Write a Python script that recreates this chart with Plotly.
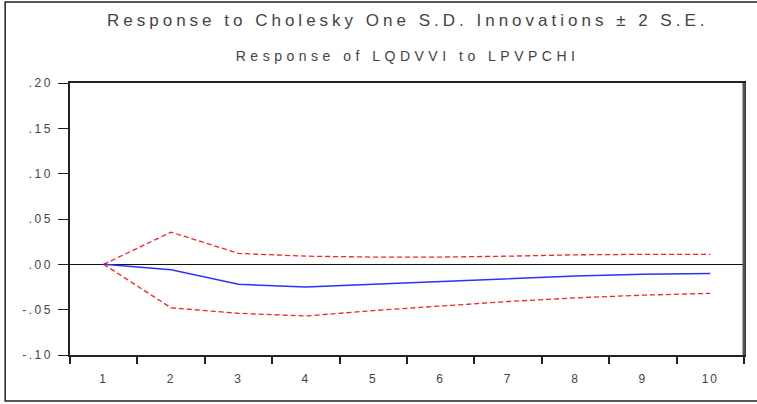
import plotly.graph_objects as go

periods = [1, 2, 3, 4, 5, 6, 7, 8, 9, 10]
response = [0.0, -0.006, -0.022, -0.025, -0.022, -0.019, -0.016, -0.013, -0.011, -0.010]
upper = [0.0, 0.0355, 0.012, 0.009, 0.008, 0.008, 0.009, 0.0105, 0.011, 0.011]
lower = [0.0, -0.048, -0.054, -0.057, -0.051, -0.046, -0.041, -0.037, -0.034, -0.032]
y_ticks = [-0.10, -0.05, 0.00, 0.05, 0.10, 0.15, 0.20]
y_labels = ["-.10", "-.05", ".00", ".05", ".10", ".15", ".20"]
x_labels = [str(p) for p in periods]
boundaries = [p - 0.5 for p in periods] + [periods[-1] + 0.5]

fig = go.Figure()
fig.add_trace(go.Scatter(x=periods, y=upper, mode="lines",
                         line=dict(color="#ff2020", width=1.3, dash="5px,3px"), hoverinfo="skip"))
fig.add_trace(go.Scatter(x=periods, y=lower, mode="lines",
                         line=dict(color="#ff2020", width=1.3, dash="5px,3px"), hoverinfo="skip"))
fig.add_trace(go.Scatter(x=periods, y=response, mode="lines",
                         line=dict(color="#3030ff", width=1.5)))

font_family = "Liberation Sans, Arial, sans-serif"
fig.update_layout(
    width=757, height=404,
    margin=dict(l=70, r=11, t=83, b=49),
    paper_bgcolor="white", plot_bgcolor="white",
    showlegend=False,
    font=dict(family=font_family, color="#444444", size=12),
    xaxis=dict(range=[0.5, 10.5], tickvals=periods, ticktext=x_labels,
               ticks="", showgrid=False, zeroline=False, ticklabelstandoff=12,
               showline=True, linecolor="#222222", linewidth=1.5, mirror=True,
               tickfont=dict(size=12, color="#444444"),
               minor=dict(tickvals=boundaries, ticks="outside", ticklen=7,
                          tickcolor="#222222", tickwidth=1.5, showgrid=False)),
    yaxis=dict(range=[-0.10, 0.20], tickvals=y_ticks, ticktext=y_labels,
               ticks="outside", ticklen=10, tickcolor="#222222", tickwidth=1,
               ticklabelstandoff=3,
               showgrid=False, zeroline=True, zerolinecolor="#111111", zerolinewidth=1.3,
               showline=True, linecolor="#222222", linewidth=1.5, mirror=True,
               tickfont=dict(size=12, color="#444444")),
    annotations=[
        dict(text="Response to Cholesky One S.D. Innovations \u00b1 2 S.E.",
             xref="paper", yref="paper", x=0.5, y=1.0, yshift=63, showarrow=False,
             font=dict(size=17, color="#444444", family=font_family), xanchor="center", yanchor="middle"),
        dict(text="Response of LQDVVI to LPVPCHI",
             xref="paper", yref="paper", x=0.5, y=1.0, yshift=27, showarrow=False,
             font=dict(size=14, color="#444444", family=font_family), xanchor="center", yanchor="middle"),
    ],
    shapes=[
        dict(type="rect", xref="paper", yref="paper", x0=-0.0962, x1=1.03, y0=-0.169, y1=1.298,
             line=dict(color="#222222", width=1.5), layer="below"),
        dict(type="line", xref="paper", yref="paper", x0=1.0, x1=1.0, y0=0, y1=1,
             line=dict(color="#555555", width=3)),
    ],
)

post = """
document.body.style.margin = '0px';
document.body.style.padding = '0px';
var gd = document.getElementsByClassName('plotly-graph-div')[0];
function spacing() {
  gd.querySelectorAll('.annotation-text').forEach(function (t) {
    var fs = parseFloat(t.style.fontSize || '14');
    t.style.letterSpacing = (fs > 15 ? '4px' : '4.5px');
  });
  gd.querySelectorAll('.ytick text').forEach(function (t) { t.style.letterSpacing = '2.5px'; });
  gd.querySelectorAll('.xtick text').forEach(function (t) { t.style.letterSpacing = '2px'; });
}
spacing();
gd.on('plotly_afterplot', spacing);
"""
fig.write_html("out.html", post_script=post, config={"displayModeBar": False})
